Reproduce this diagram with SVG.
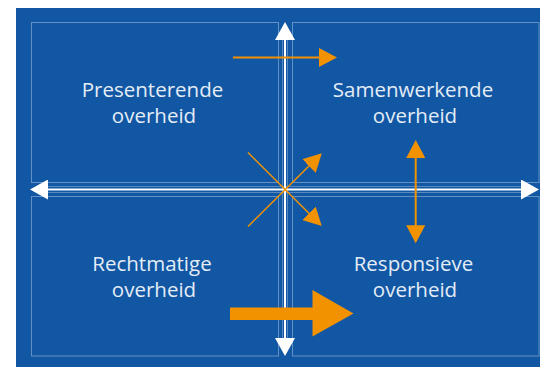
<svg xmlns="http://www.w3.org/2000/svg" width="540" height="368" viewBox="0 0 540 368">
  <style>
    .panel { fill: none; stroke: #ffffff; stroke-opacity: 0.35; stroke-width: 1; }
    .label { font-family: "Open Sans", "Noto Sans", "Liberation Sans", sans-serif; font-size: 20.5px; fill: #e4ecf6; text-anchor: middle; }
    .axis { stroke: #ffffff; stroke-width: 2; fill: none; }
    .axis-edge { stroke: #ffffff; stroke-opacity: 0.3; stroke-width: 1; fill: none; }
    .flow { stroke: #f39200; stroke-width: 2; fill: none; }
    .flow-thin { stroke: #f39200; stroke-width: 1.5; fill: none; }
  </style>
  <defs>
    <marker id="head-white" markerUnits="userSpaceOnUse" markerWidth="18" markerHeight="20" refX="1" refY="10" orient="auto-start-reverse">
      <path d="M0,0 L18,10 L0,20 Z" fill="#ffffff"/>
    </marker>
    <marker id="head-orange" markerUnits="userSpaceOnUse" markerWidth="18" markerHeight="19" refX="1" refY="9.5" orient="auto-start-reverse">
      <path d="M0,0 L18,9.5 L0,19 Z" fill="#f39200"/>
    </marker>
  </defs>

  <!-- background field -->
  <rect x="16" y="8" width="524" height="359" fill="#1157a4"/>

  <!-- quadrants -->
  <g id="presenterende">
    <rect class="panel" x="31.5" y="22.5" width="247" height="160"/>
    <text class="label" x="152.5" y="97">Presenterende</text>
    <text class="label" x="154" y="123">overheid</text>
  </g>
  <g id="samenwerkende">
    <rect class="panel" x="292.5" y="22.5" width="246.5" height="160"/>
    <text class="label" x="413" y="97">Samenwerkende</text>
    <text class="label" x="415" y="123">overheid</text>
  </g>
  <g id="rechtmatige">
    <rect class="panel" x="31.5" y="196.5" width="247" height="159.5"/>
    <text class="label" x="152" y="271">Rechtmatige</text>
    <text class="label" x="154" y="297">overheid</text>
  </g>
  <g id="responsieve">
    <rect class="panel" x="292.5" y="196.5" width="246.5" height="159.5"/>
    <text class="label" x="413.5" y="271">Responsieve</text>
    <text class="label" x="415" y="297">overheid</text>
  </g>

  <g id="connectors">
    <!-- axes -->
    <line class="axis-edge" x1="282.5" y1="40" x2="282.5" y2="338"/>
    <line class="axis-edge" x1="287.5" y1="40" x2="287.5" y2="338"/>
    <line class="axis-edge" x1="47" y1="186.5" x2="522" y2="186.5"/>
    <line class="axis-edge" x1="47" y1="192.5" x2="522" y2="192.5"/>
    <line class="axis" x1="285" y1="39" x2="285" y2="339" marker-start="url(#head-white)" marker-end="url(#head-white)"/>
    <line class="axis" x1="47" y1="189.5" x2="522" y2="189.5" marker-start="url(#head-white)" marker-end="url(#head-white)"/>

    <!-- transitions -->
    <line class="flow" x1="233" y1="57.5" x2="320" y2="57.5" marker-end="url(#head-orange)"/>
    <line class="flow-thin" x1="248" y1="152.5" x2="309.7" y2="214" marker-end="url(#head-orange)"/>
    <line class="flow-thin" x1="248" y1="226.5" x2="309.7" y2="165.3" marker-end="url(#head-orange)"/>
    <line class="flow" x1="415.7" y1="157" x2="415.7" y2="226.3" marker-start="url(#head-orange)" marker-end="url(#head-orange)"/>

    <!-- main transition -->
    <path d="M230,307.5 H312.5 V290 L353.5,313.5 L312.5,336.5 V320 H230 Z" fill="#f39200"/>
  </g>
</svg>
